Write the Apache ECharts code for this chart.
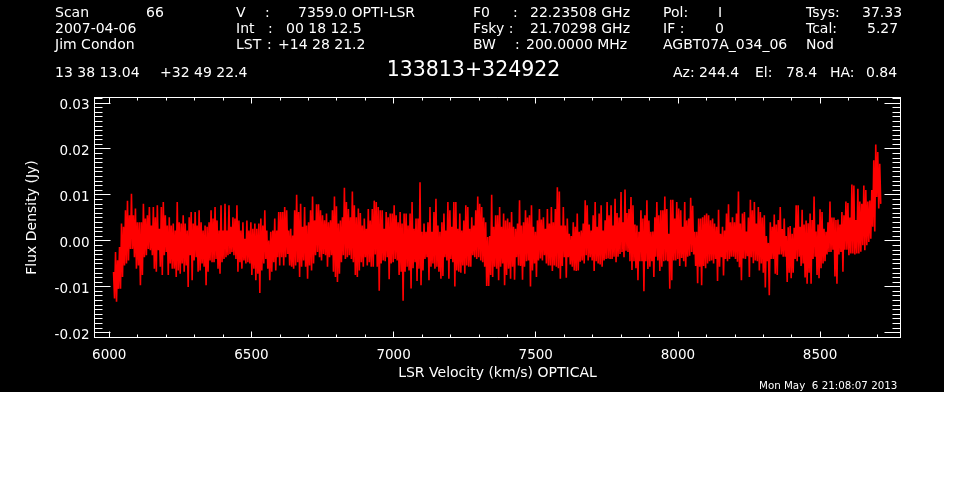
<!DOCTYPE html>
<html>
<head>
<meta charset="utf-8">
<title>133813+324922</title>
<style>
  html, body { margin: 0; padding: 0; background: #fff; }
  #chart { width: 962px; height: 490px; }
</style>
<script src="https://cdn.jsdelivr.net/npm/echarts@6/dist/echarts.min.js"></script>
</head>
<body>
<div id="chart"></div>
<script>
// spectrum channels (mJy)
const firstVelocity = 6015;
const channelStep = 3.5;

const fluxHigh = [
  -6.8,-2.5,-4.3,-1.4,3.7,3,6.6,8.7,5.5,10.2,
  5.5,7,4,4,4,8,4.8,5.5,7.3,3.3,
  7.3,5.1,7.7,2.6,7.3,8.4,5.5,3.3,5.1,3.3,
  3.7,2.2,8.4,4,3.7,5.5,3.7,2.2,5.1,6.2,
  3.7,6.2,3.3,6.6,4,2.2,3.3,3,4,6.6,
  4.8,7.3,4.4,2.2,7.7,2.2,8,2.2,7.7,3,
  5.1,4.8,7.7,4.4,
  2.2,4,0.4,4.4,2.2,4,2.6,3.7,2.6,3.7,
  4.8,3.3,6.6,2.2,0,1.9,2.2,4.8,2.2,6.2,
  6.2,6.2,7.3,6.6,2.2,2.6,1.1,6.6,10,6.2,
  8,3,7.3,3.3,4,6.6,9.6,4.4,7.9,7.9,
  6.6,5.5,4.4,5.9,4,4.4,6.6,9.6,7.5,3.7,
  4.4,5.1,11.5,8.4,6.9,5.1,10.7,7.7,5.1,7,
  6,3.3,4.8,2.6,6.9,
  4.4,6.9,8.7,8.4,7.3,6.6,6.6,2.6,6.2,5.1,
  5.9,5.9,7.7,5.5,4,6.2,3.7,5.9,5.9,3.3,
  5.9,8.4,2.6,4.8,4.8,12.7,1.9,3.7,1.9,4,
  7.3,1.9,6.2,9.1,3.3,1.9,4,5.9,2.2,8.4,
  6.6,3,8.4,8.4,2.6,5.9,2.2,4.4,7.7,7.3,
  2.6,5.1,3.3,6.6,9.6,8,7.3,5,4,0.8,
  1,10,3,5.5,5.5,
  7.3,3,5.9,4.4,4.8,4,6.2,3,2.6,3.7,
  8.8,3.3,4,6.6,5,5.5,7.7,3,1.9,4.4,
  6.9,4.6,5.1,2.6,6.9,3.7,7.3,4,6.9,11.6,
  10.7,3.3,7.3,3.3,4.8,1.5,1,4,3,5.9,
  1.9,2.2,3.7,8.8,7.7,3.5,2.2,5.5,8.4,3,
  5.9,7.7,2.2,4.4,8.4,5.5,7.7,3.3,9.1,6,
  5,10.6,4,11.1,6,
  6.9,9.5,7.7,3.5,3.3,1.9,6.6,4.8,5.5,8.8,
  4.4,1.9,2,5.1,8.4,5.5,6.6,6.6,9.6,6.9,
  1.5,8.9,8.9,4.8,8.4,7,6.6,3,8.4,4.4,
  4.8,9.3,7.6,1.9,1.9,4.8,4.8,5.1,5.5,5.9,
  5.5,4.4,4.8,3.7,3,6.7,1.5,3,2.2,5.9,
  7.9,4,5.1,4,5.9,10.7,3.7,5.9,6.2,2,
  5,8.9,6.6,8.4,3.7,
  7.3,6.2,5,5.5,1,-0.5,4,3,5.7,3.5,
  4.5,7.3,2.5,4.8,1,2.9,3.2,1.5,2.8,7.7,
  7.7,3,6.7,3.5,4.4,3.8,5.9,4.5,9.6,2,
  3.5,6.8,6.2,2.6,1.9,4,8.5,5,5,4.5,
  4.6,3.5,6.2,5.5,8.5,8.2,5,12.2,12,4.5,
  11.3,8.5,8,12,11,8.5,8.7,11,17.5,20.9,
  19.3,16.7
];

const fluxLow = [
  -12.6,-13.3,-10.5,-10.5,-7.9,-5.4,-5,-4.3,-1.8,-1.8,
  -3.6,-6.1,-5.4,-9.7,-7.5,-3.6,-3.2,-1.8,-2.1,-3.2,
  -6.1,-6.8,-2.1,-5.7,-7.5,-3.2,-2.5,-7.5,-5,-6.1,
  -6.1,-7.9,-6.5,-7.2,-5,-6.8,-5.4,-10.1,-3.2,-8.6,
  -4.3,-3.6,-6.8,-6.5,-5,-5.7,-9.7,-6.8,-4.3,-4.7,
  -4.7,-4,-6.1,-7.2,-4.7,-4,-3.6,-3.2,-2.9,-2.5,
  -3.2,-4,-6.8,-4.7,
  -6.1,-4.3,-5,-4.7,-5,-7.5,-6.1,-8.6,-7.2,-11.4,
  -6.5,-5,-4,-6.1,-8.6,-6.8,-4.7,-6.5,-3.6,-5.4,
  -3.6,-5.4,-3.6,-2.9,-5.4,-5.7,-6.1,-5.4,-4.7,-7.9,
  -5.7,-4.3,-5.7,-8.3,-5.4,-6.5,-5,-3.2,-2.5,-3.6,
  -4.3,-2.9,-3.2,-5.7,-3.6,-3.2,-6.8,-7.9,-9,-7.2,
  -4.7,-3.2,-4,-3.6,-3.2,-4,-4.7,-7.5,-7.9,-6.5,
  -4.7,-5.7,-3.6,-5.4,-4.7,
  -5.7,-5.7,-3,-5.7,-10.9,-5,-4.3,-4.5,-3.6,-8.4,
  -5,-4.7,-4,-4.3,-7.5,-6.8,-13.1,-6.8,-5.7,-6.5,
  -10.4,-6,-4.7,-8.8,-6.1,-9.7,-6.5,-4,-3.6,-8.6,
  -5.7,-5,-6.1,-5.7,-6.8,-8.3,-7.7,-3.6,-4.3,-8.3,
  -4,-4.7,-10,-6.5,-6.8,-7,-5.4,-7.2,-5.4,-5.7,
  -5.7,-3.2,-3.6,-4,-3.6,-4.3,-4.7,-5.7,-9.9,-9.9,
  -7.5,-7.9,-5.7,-6.1,-8.6,
  -5.7,-5,-9.7,-7.5,-6.1,-8.3,-5.7,-8.5,-3.6,-5.4,
  -5.5,-8.5,-5.7,-4.5,-4.3,-10,-6.5,-5,-7.9,-4.3,
  -3.9,-4.3,-3.2,-5,-5.4,-5.4,-6.6,-5.4,-5.7,-6,
  -8.3,-5.5,-3.6,-8.1,-3.6,-5.2,-5.7,-6.5,-6.6,-6.5,
  -4.6,-4.3,-5,-3.2,-4.3,-3.6,-4.3,-6.6,-4.5,-5,
  -5.2,-5.7,-4.3,-4,-3.9,-4,-4,-3.5,-4.7,-3.5,
  -2.9,-2.5,-3.6,-2.2,-2.5,
  -4.5,-6.4,-4.5,-6,-8.6,-4.5,-4.5,-11,-4.5,-6.2,
  -5.7,-4.5,-7.9,-3.5,-4.3,-6.6,-5.7,-4.5,-4.3,-4.5,
  -10.5,-8.6,-4.3,-4.3,-4,-5.5,-3.8,-4.5,-5.7,-3.5,
  -3.3,-2.5,-3,-5.5,-9.3,-5.7,-9.7,-5.5,-6,-5,
  -4.5,-4.3,-5,-4,-8.8,-5.7,-3.6,-7.6,-4,-4.5,
  -4,-3.5,-3.5,-4,-4.6,-5.8,-8.6,-3.9,-4,-3.4,
  -7.9,-3.6,-4.9,-4.3,-4.5,
  -6.5,-5,-7,-10.2,-4.5,-11.9,-4,-4,-7.2,-7.5,
  -3,-3,-3.5,-3.5,-9,-7,-8.2,-7,-4,-4.5,
  -3.5,-5.5,-5,-8,-9.4,-7,-9.4,-4,-3.5,-7.5,
  -8.2,-6,-5,-4.5,-3,-2.5,-2.5,-2,-7.8,-9.4,
  -3,-2.5,-6.8,-2,-2,-3.2,-2.8,-2.8,-3,-2.8,
  -2.8,-2.4,-1,-2.1,-1,-0.3,0.4,3,2,9.5,
  7,8
];

// 坐标轴刻度
const xMajorTicks = [6000, 6500, 7000, 7500, 8000, 8500];
const xMinorTicks = [6100, 6200, 6300, 6400, 6600, 6700, 6800, 6900, 7100, 7200, 7300, 7400,
  7600, 7700, 7800, 7900, 8100, 8200, 8300, 8400, 8600, 8700];
const yMajorTicks = [-0.02, -0.01, 0, 0.01, 0.02, 0.03];
const yMinorTicks = [-0.021, -0.019, -0.018, -0.017, -0.016, -0.015, -0.014, -0.013, -0.012, -0.011,
  -0.009, -0.008, -0.007, -0.006, -0.005, -0.004, -0.003, -0.002, -0.001,
  0.001, 0.002, 0.003, 0.004, 0.005, 0.006, 0.007, 0.008, 0.009,
  0.011, 0.012, 0.013, 0.014, 0.015, 0.016, 0.017, 0.018, 0.019,
  0.021, 0.022, 0.023, 0.024, 0.025, 0.026, 0.027, 0.028, 0.029, 0.031];

// 顶部文字
const headerTexts = [
  ['Scan', 55, 13.5], ['66', 146, 13.5], ['V', 236, 13.5], [':', 265, 13.5], ['7359.0 OPTI-LSR', 298, 13.5],
  ['F0', 473, 13.5], [':', 513, 13.5], ['22.23508 GHz', 530, 13.5], ['Pol:', 663, 13.5], ['I', 718, 13.5],
  ['Tsys:', 806, 13.5], ['37.33', 862, 13.5],
  ['2007-04-06', 55, 29.5], ['Int', 236, 29.5], [':', 268, 29.5], ['00 18 12.5', 286, 29.5],
  ['Fsky :', 473, 29.5], ['21.70298 GHz', 530, 29.5], ['IF :', 663, 29.5], ['0', 715, 29.5],
  ['Tcal:', 806, 29.5], ['5.27', 867, 29.5],
  ['Jim Condon', 55, 45.5], ['LST', 236, 45.5], [':', 267, 45.5], ['+14 28 21.2', 278, 45.5],
  ['BW', 473, 45.5], [':', 515, 45.5], ['200.0000 MHz', 526, 45.5],
  ['AGBT07A_034_06', 663, 45.5], ['Nod', 806, 45.5],
  ['13 38 13.04', 55, 73], ['+32 49 22.4', 160, 73],
  ['Az: 244.4', 673, 73], ['El:', 755, 73], ['78.4', 786, 73], ['HA:', 830, 73], ['0.84', 866, 73]
];

const spectrum = [];
fluxHigh.forEach((hi, i) => {
  spectrum.push([firstVelocity + 2 * i * channelStep, hi / 1000]);
  spectrum.push([firstVelocity + (2 * i + 1) * channelStep, fluxLow[i] / 1000]);
});

const xMin = 5948, xMax = 8783;
const yMin = -0.02109, yMax = 0.03115;
const fontFamily = 'DejaVu Sans';
const white = '#fff';

// x 轴：上下各一根主刻度、一根次刻度
const makeXAxis = (position, ticks, length, extra) => Object.assign({
  type: 'value',
  position: position,
  min: xMin,
  max: xMax,
  axisLine: { show: true, onZero: false, lineStyle: { color: white, width: 1 } },
  axisTick: { show: true, inside: true, length: length, customValues: ticks, lineStyle: { color: white, width: 1 } },
  axisLabel: { show: false },
  splitLine: { show: false }
}, extra || {});

// y 轴同理
const makeYAxis = (position, ticks, length, extra) => Object.assign({
  type: 'value',
  position: position,
  min: yMin,
  max: yMax,
  axisLine: { show: true, onZero: false, lineStyle: { color: white, width: 1 } },
  axisTick: { show: true, inside: true, length: length, customValues: ticks, lineStyle: { color: white, width: 1 } },
  axisLabel: { show: false },
  splitLine: { show: false }
}, extra || {});

const graphicItems = [
  { type: 'rect', z: -10, shape: { x: 0, y: 0, width: 944, height: 392 }, style: { fill: '#000' } }
];
headerTexts.forEach(item => {
  graphicItems.push({
    type: 'text', x: item[1], y: item[2], z: 5,
    style: { text: item[0], fill: white, font: '14px "' + fontFamily + '"', verticalAlign: 'middle' }
  });
});
graphicItems.push({
  type: 'text', x: 473.5, y: 71, z: 5,
  style: { text: '133813+324922', fill: white, font: '20.5px "' + fontFamily + '"', align: 'center', verticalAlign: 'middle' }
});
graphicItems.push({
  type: 'text', x: 759, y: 386, z: 5,
  style: { text: 'Mon May  6 21:08:07 2013', fill: white, font: '10.3px "' + fontFamily + '"', verticalAlign: 'middle' }
});

const myChart = echarts.init(document.getElementById('chart'));

myChart.setOption({
  backgroundColor: '#fff',
  animation: false,
  grid: { left: 94.5, right: 61.5, top: 97.5, bottom: 152.5, containLabel: false },
  graphic: graphicItems,
  xAxis: [
    makeXAxis('bottom', xMajorTicks, 6, {
      name: 'LSR Velocity (km/s) OPTICAL',
      nameLocation: 'middle',
      nameGap: 29,
      nameTextStyle: { color: white, fontSize: 14, fontFamily: fontFamily },
      axisLabel: {
        show: true,
        customValues: xMajorTicks,
        color: white,
        fontSize: 13.5,
        fontFamily: fontFamily,
        margin: 11,
        formatter: value => String(value)
      }
    }),
    makeXAxis('top', xMajorTicks, 6),
    makeXAxis('bottom', xMinorTicks, 3),
    makeXAxis('top', xMinorTicks, 3)
  ],
  yAxis: [
    makeYAxis('left', yMajorTicks, 16, {
      name: 'Flux Density (Jy)',
      nameLocation: 'middle',
      nameGap: 55,
      nameRotate: 90,
      nameTextStyle: { color: white, fontSize: 14, fontFamily: fontFamily },
      axisLabel: {
        show: true,
        customValues: yMajorTicks,
        color: white,
        fontSize: 13.5,
        fontFamily: fontFamily,
        margin: 5,
        verticalAlign: 'top',
        lineHeight: 6,
        formatter: value => value.toFixed(2)
      }
    }),
    makeYAxis('right', yMajorTicks, 16),
    makeYAxis('left', yMinorTicks, 8),
    makeYAxis('right', yMinorTicks, 8)
  ],
  series: [
    {
      name: 'Flux Density',
      type: 'line',
      xAxisIndex: 0,
      yAxisIndex: 0,
      data: spectrum,
      showSymbol: false,
      symbol: 'none',
      sampling: false,
      silent: true,
      lineStyle: { color: '#ff0000', width: 1.6 }
    }
  ]
});

window.addEventListener('resize', () => {
  myChart.resize();
});
</script>
</body>
</html>
